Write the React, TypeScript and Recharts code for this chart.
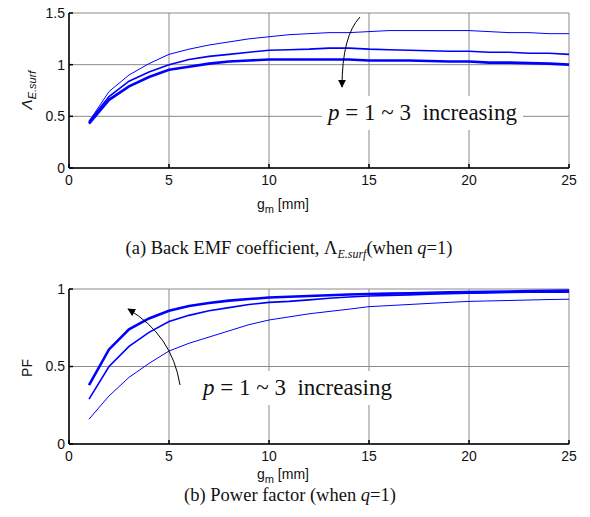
import React from 'react';
import { LineChart, Line, XAxis, YAxis, CartesianGrid } from 'recharts';

// gap length g_m [mm]
const gm = [1, 2, 3, 4, 5, 6, 7, 8, 9, 10, 11, 12, 13, 14, 15, 16, 17, 18, 19, 20, 21, 22, 23, 24, 25];

// (a) back EMF coefficient, p = 1, 2, 3
const emfP1 = [0.45, 0.74, 0.9, 1.01, 1.1, 1.15, 1.19, 1.22, 1.25, 1.27, 1.29, 1.3, 1.31, 1.31, 1.32, 1.33, 1.33, 1.33, 1.33, 1.33, 1.32, 1.31, 1.31, 1.3, 1.3];
const emfP2 = [0.45, 0.69, 0.84, 0.93, 1.0, 1.05, 1.08, 1.1, 1.12, 1.14, 1.145, 1.15, 1.16, 1.16, 1.15, 1.145, 1.14, 1.135, 1.13, 1.13, 1.12, 1.12, 1.11, 1.11, 1.1];
const emfP3 = [0.43, 0.66, 0.79, 0.88, 0.95, 0.98, 1.01, 1.03, 1.04, 1.05, 1.05, 1.05, 1.05, 1.05, 1.04, 1.04, 1.04, 1.035, 1.03, 1.03, 1.02, 1.02, 1.015, 1.01, 1.0];

// (b) power factor, p = 1, 2, 3
const pfP1 = [0.16, 0.31, 0.43, 0.52, 0.6, 0.65, 0.69, 0.73, 0.77, 0.8, 0.82, 0.84, 0.855, 0.87, 0.886, 0.893, 0.9, 0.907, 0.914, 0.92, 0.923, 0.926, 0.929, 0.932, 0.934];
const pfP2 = [0.29, 0.5, 0.63, 0.72, 0.79, 0.83, 0.86, 0.88, 0.9, 0.914, 0.92, 0.93, 0.94, 0.948, 0.955, 0.958, 0.962, 0.966, 0.97, 0.973, 0.975, 0.977, 0.979, 0.98, 0.98];
const pfP3 = [0.38, 0.61, 0.74, 0.81, 0.86, 0.89, 0.91, 0.925, 0.935, 0.945, 0.95, 0.955, 0.96, 0.965, 0.968, 0.97, 0.973, 0.975, 0.978, 0.98, 0.982, 0.984, 0.986, 0.988, 0.99];

const xTicks = [0, 5, 10, 15, 20, 25];
const emfTicks = [0, 0.5, 1, 1.5];
const pfTicks = [0, 0.5, 1];

const emfData = gm.map((g, i) => ({ g, p1: emfP1[i], p2: emfP2[i], p3: emfP3[i] }));
const pfData = gm.map((g, i) => ({ g, p1: pfP1[i], p2: pfP2[i], p3: pfP3[i] }));

const sans = "'Liberation Sans', Arial, sans-serif";
const serif = "'Liberation Serif', 'Times New Roman', serif";
const tickFont = { fontFamily: sans, fontSize: 14, fill: '#111' };

const Panel = ({ data, yMax, yTicks }: { data: any[]; yMax: number; yTicks: number[] }) => (
  <LineChart width={590} height={200} data={data} margin={{ top: 13, right: 21, left: 20, bottom: 12 }}>
    <CartesianGrid stroke="#8a8a8a" strokeWidth={1} />
    <XAxis
      dataKey="g"
      type="number"
      domain={[0, 25]}
      ticks={xTicks}
      height={20}
      tickSize={-4}
      tickMargin={11}
      tick={tickFont}
      stroke="#000"
      strokeWidth={1.5}
    />
    <XAxis
      xAxisId="top"
      orientation="top"
      dataKey="g"
      type="number"
      domain={[0, 25]}
      ticks={xTicks}
      height={0}
      tickSize={-4}
      tick={false}
      stroke="#000"
      strokeWidth={1.5}
    />
    <YAxis
      type="number"
      domain={[0, yMax]}
      ticks={yTicks}
      width={49}
      tickSize={-4}
      tickMargin={8}
      tick={tickFont}
      stroke="#000"
      strokeWidth={1.5}
    />
    <YAxis
      yAxisId="right"
      orientation="right"
      type="number"
      domain={[0, yMax]}
      ticks={yTicks}
      width={0}
      tickSize={-4}
      tick={false}
      stroke="#000"
      strokeWidth={1.5}
    />
    <Line type="linear" dataKey="p1" stroke="#0000ff" strokeWidth={1} dot={false} isAnimationActive={false} />
    <Line type="linear" dataKey="p2" stroke="#0000ff" strokeWidth={1.6} dot={false} isAnimationActive={false} />
    <Line type="linear" dataKey="p3" stroke="#0000ff" strokeWidth={2.6} dot={false} isAnimationActive={false} />
  </LineChart>
);

const XLabel = ({ top }: { top: number }) => (
  <div
    style={{
      position: 'absolute',
      left: 0,
      width: 566,
      top,
      textAlign: 'center',
      fontFamily: sans,
      fontSize: 14,
      lineHeight: '16px',
      color: '#111',
    }}
  >
    g<span style={{ fontSize: 11, position: 'relative', top: 4 }}>m</span> [mm]
  </div>
);

const Note = ({ left, top }: { left: number; top: number }) => (
  <div
    style={{
      position: 'absolute',
      left,
      top,
      background: '#fff',
      padding: '3px 6px',
      fontFamily: serif,
      fontSize: 23,
      lineHeight: '28px',
      whiteSpace: 'nowrap',
      color: '#111',
    }}
  >
    <i>p</i> = 1 ~ 3&nbsp; increasing
  </div>
);

const App = () => {
  return (
    <div style={{ position: 'absolute', left: 0, top: 0, width: 590, height: 517, background: '#fff' }}>
      <div style={{ position: 'absolute', left: 0, top: 0 }}>
        <Panel data={emfData} yMax={1.5} yTicks={emfTicks} />
      </div>
      <div style={{ position: 'absolute', left: 0, top: 276 }}>
        <Panel data={pfData} yMax={1} yTicks={pfTicks} />
      </div>

      {/* y labels */}
      <div
        style={{
          position: 'absolute',
          left: 27,
          top: 90,
          transform: 'translate(-50%, -50%) rotate(-90deg)',
          fontFamily: sans,
          fontSize: 15,
          lineHeight: '18px',
          fontStyle: 'italic',
          whiteSpace: 'nowrap',
          color: '#111',
        }}
      >
        Λ<span style={{ fontSize: 11, position: 'relative', top: 4 }}>E.surf</span>
      </div>
      <div
        style={{
          position: 'absolute',
          left: 27,
          top: 368,
          transform: 'translate(-50%, -50%) rotate(-90deg)',
          fontFamily: sans,
          fontSize: 14,
          whiteSpace: 'nowrap',
          color: '#111',
        }}
      >
        PF
      </div>

      <XLabel top={196} />
      <XLabel top={466} />

      {/* captions */}
      <div style={{ position: 'absolute', left: 0, width: 578, top: 237, textAlign: 'center', fontFamily: serif, fontSize: 18.5, lineHeight: '22px', color: '#111' }}>
        (a) Back EMF coefficient, Λ<span style={{ fontSize: 12, fontStyle: 'italic', position: 'relative', top: 4 }}>E.surf</span>(when <i>q</i>=1)
      </div>
      <div style={{ position: 'absolute', left: 0, width: 580, top: 484, textAlign: 'center', fontFamily: serif, fontSize: 18.5, lineHeight: '22px', color: '#111' }}>
        (b) Power factor (when <i>q</i>=1)
      </div>

      {/* annotations */}
      <Note left={322} top={96} />
      <Note left={197} top={371} />
      <svg width={590} height={517} style={{ position: 'absolute', left: 0, top: 0, pointerEvents: 'none' }}>
        <defs>
          <marker id="head" viewBox="0 0 10 10" refX="9" refY="5" markerWidth="8" markerHeight="8" orient="auto">
            <path d="M0,0 L10,5 L0,10 z" fill="#000" />
          </marker>
        </defs>
        <path d="M360,17 Q342,36 342,87" fill="none" stroke="#000" strokeWidth={1} markerEnd="url(#head)" />
        <path d="M180,385 Q172,335 128,309" fill="none" stroke="#000" strokeWidth={1} markerEnd="url(#head)" />
      </svg>
    </div>
  );
};

export default App;
